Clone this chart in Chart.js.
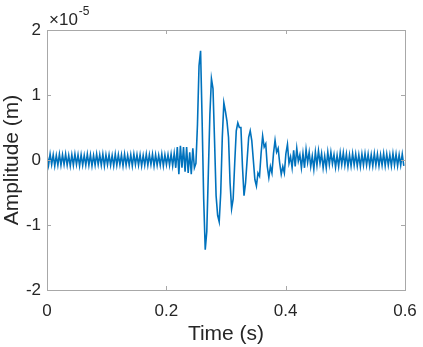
<!DOCTYPE html>
<html>
<head>
<meta charset="utf-8">
<script src="https://cdn.jsdelivr.net/npm/chart.js@4"></script>
<style>
  html, body { margin: 0; padding: 0; background: #fff; }
  #wrap { width: 423px; height: 347px; }
</style>
</head>
<body>
<div id="wrap"><canvas id="chart" width="423" height="347"></canvas></div>
<script>
// Recorded signal, sampled every sampleInterval seconds.
// Amplitude values are in units of 1e-5 m (axis shows x10^-5).
const sampleInterval = 0.0026; // s

const xTicks = [0, 0.2, 0.4, 0.6];
const yTicks = [-2, -1, 0, 1, 2];

// before the event (0 - 0.213 s)
const ampBefore = [
    0.08, -0.08, 0.09, -0.07, 0.08, -0.09, 0.07, -0.08, 0.09, -0.08,
    0.08, -0.07, 0.09, -0.08, 0.07, -0.09, 0.08, -0.08, 0.09, -0.07,
    0.08, -0.09, 0.08, -0.08, 0.07, -0.08, 0.09, -0.08, 0.08, -0.09,
    0.07, -0.08, 0.09, -0.07, 0.08, -0.08, 0.09, -0.09, 0.08, -0.07,
    0.08, -0.08, 0.07, -0.09, 0.09, -0.08, 0.08, -0.07, 0.08, -0.09,
    0.09, -0.08, 0.07, -0.08, 0.08, -0.09, 0.09, -0.07, 0.08, -0.08,
    0.08, -0.09, 0.07, -0.08, 0.09, -0.08, 0.08, -0.07, 0.09, -0.09,
    0.08, -0.08, 0.07, -0.08, 0.09, -0.09, 0.08, -0.07, 0.08, -0.08,
    0.09, -0.09
];

// onset just ahead of the main arrival
const ampOnset = [
    0.1, -0.12, 0.2, -0.22, 0.22, -0.12, 0.2, -0.18, 0.2, -0.2,
    0.12, -0.22, 0.18, -0.12
];

// main arrival and decay
const ampBurst = [
    -0.05, 0.55, 1.45, 1.68, 0.6, -0.6, -1.38, -1.1, -0.2, 0.7,
    1.25, 1.1, 0.3, -0.55, -0.85, -0.95, -0.5, 0.35, 0.88, 0.75,
    0.6, 0.35, -0.35, -0.75, -0.6, -0.05, 0.45, 0.57, 0.5, 0.5,
    -0.1, -0.55, -0.35, 0.0, 0.35, 0.45, 0.3, 0.0, -0.3, -0.4,
    -0.2, -0.25, 0.1, 0.37, 0.2, 0.25, -0.1, -0.27, -0.1, -0.2,
    0.1, 0.3, 0.12, 0.18, -0.05, -0.22, -0.1, -0.2, 0.1, 0.24
];

// coda
const ampTail = [
    -0.05, 0.05, -0.12, 0.15, -0.1, 0.18, -0.02, 0.08, -0.12, 0.1,
    -0.12, 0.16, -0.04, 0.12, -0.1, 0.06, -0.14, 0.12, -0.08, 0.14,
    -0.05, 0.1, -0.12, 0.06, -0.12, 0.12, -0.07, 0.12, -0.06, 0.08,
    -0.11, 0.07, -0.1, 0.11, -0.07, 0.11, -0.08, 0.09, -0.1, 0.08,
    -0.09, 0.1, -0.08, 0.09, -0.09, 0.08, -0.1, 0.09, -0.08, 0.1,
    -0.08, 0.09, -0.09, 0.08, -0.09, 0.1, -0.08, 0.09, -0.09, 0.08,
    -0.08, 0.1, -0.09, 0.09, -0.08, 0.08, -0.09, 0.1, -0.08, 0.09,
    -0.09, 0.08, -0.08, 0.09, -0.09
];

const amplitude = ampBefore.concat(ampOnset, ampBurst, ampTail);
const points = amplitude.map((a, i) => ({ x: i * sampleInterval, y: a }));

const axisColor = '#a8a8a8';
const textColor = '#262626';
const fontFamily = '"Liberation Sans", Arial, Helvetica, sans-serif';

// box round the axes, inward ticks on all four sides, and the x10^-5 label
const matlabAxes = {
    id: 'matlabAxes',
    afterDraw(chart) {
        const ctx = chart.ctx;
        const a = chart.chartArea;
        const xs = chart.scales.x;
        const ys = chart.scales.y;
        const tl = 4;
        ctx.save();
        ctx.strokeStyle = axisColor;
        ctx.lineWidth = 1;
        ctx.strokeRect(Math.round(a.left) + 0.5, Math.round(a.top) + 0.5,
            Math.round(a.right - a.left), Math.round(a.bottom - a.top));
        ctx.beginPath();
        xTicks.forEach(v => {
            const px = Math.round(xs.getPixelForValue(v)) + 0.5;
            ctx.moveTo(px, a.bottom); ctx.lineTo(px, a.bottom - tl);
            ctx.moveTo(px, a.top); ctx.lineTo(px, a.top + tl);
        });
        yTicks.forEach(v => {
            const py = Math.round(ys.getPixelForValue(v)) + 0.5;
            ctx.moveTo(a.left, py); ctx.lineTo(a.left + tl, py);
            ctx.moveTo(a.right, py); ctx.lineTo(a.right - tl, py);
        });
        ctx.stroke();

        ctx.fillStyle = textColor;
        ctx.textBaseline = 'alphabetic';
        ctx.textAlign = 'left';
        ctx.font = '17px ' + fontFamily;
        const base = '\u00d710';
        ctx.fillText(base, a.left + 2, a.top - 5);
        const w = ctx.measureText(base).width;
        ctx.font = '12px ' + fontFamily;
        ctx.fillText('-5', a.left + 2 + w + 1, a.top - 15);
        ctx.restore();
    }
};

new Chart(document.getElementById('chart'), {
    type: 'line',
    data: {
        datasets: [{
            label: 'Amplitude',
            data: points,
            borderColor: '#0072bd',
            borderWidth: 1.6,
            pointRadius: 0,
            tension: 0,
            fill: false
        }]
    },
    options: {
        responsive: false,
        animation: false,
        devicePixelRatio: 1,
        layout: { padding: { top: 30, right: 18, left: 0, bottom: 0 } },
        scales: {
            x: {
                type: 'linear',
                min: 0,
                max: 0.6,
                afterBuildTicks: s => { s.ticks = xTicks.map(v => ({ value: v })); },
                afterFit: s => {
                    s.height = 57;
                    s.paddingLeft = 0;
                    s.paddingRight = 0;
                },
                ticks: {
                    color: textColor,
                    font: { family: fontFamily, size: 17 },
                    padding: 11,
                    maxRotation: 0,
                    callback: v => String(Math.round(v * 10) / 10)
                },
                grid: { display: false, drawTicks: false },
                border: { display: false },
                title: {
                    display: true,
                    text: 'Time (s)',
                    color: textColor,
                    font: { family: fontFamily, size: 21 },
                    padding: 0
                }
            },
            y: {
                min: -2,
                max: 2,
                afterBuildTicks: s => { s.ticks = yTicks.map(v => ({ value: v })); },
                afterFit: s => {
                    s.width = 47;
                    s.paddingTop = 0;
                    s.paddingBottom = 0;
                },
                ticks: {
                    color: textColor,
                    font: { family: fontFamily, size: 17 },
                    padding: 6,
                    callback: v => String(v)
                },
                grid: { display: false, drawTicks: false },
                border: { display: false },
                title: {
                    display: true,
                    text: 'Amplitude (m)',
                    color: textColor,
                    font: { family: fontFamily, size: 21 },
                    padding: 0
                }
            }
        },
        plugins: {
            legend: { display: false },
            tooltip: { enabled: false }
        }
    },
    plugins: [matlabAxes]
});
</script>
</body>
</html>
